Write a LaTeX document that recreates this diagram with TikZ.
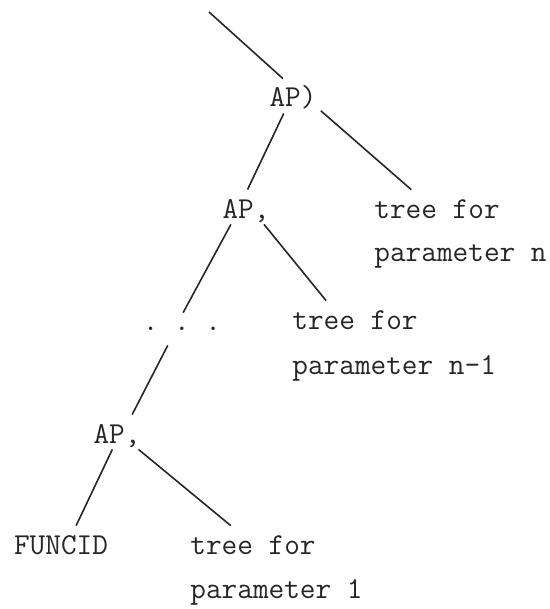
\documentclass[tikz,border=0pt]{standalone}
\usetikzlibrary{calc}
\begin{document}
\begin{tikzpicture}[x=0.5pt,y=-0.5pt,
    lbl/.style={font=\ttfamily\fontsize{15.2}{18}\selectfont, text=black!85,
        inner sep=2pt, text height=12pt, text depth=1pt},
    branch/.style={line width=0.8pt, black!85}]
    \useasboundingbox (0,0) rectangle (550,609);

    % Coordinates and nodes
    \coordinate (root) at (209,12);
    \node[lbl, anchor=base] (apn) at (293,107) {AP)};
    \node[lbl, anchor=base] (apm) at (246,218) {AP,};
    \node[lbl, anchor=base west] (tn) at (370,218) {tree for};
    \node[lbl, anchor=base west] (tnb) at ($(tn.base west)+(0,43)$) {parameter n};
    \node[lbl, anchor=base, text height=6.5pt, text depth=5.5pt] (dots) at (182,330) {.\ .\ .};
    \node[lbl, anchor=base west] (tnm) at (288,329) {tree for};
    \node[lbl, anchor=base west] (tnmb) at ($(tnm.base west)+(0,45)$) {parameter n-1};
    \node[lbl, anchor=base] (ap1) at (117,443) {AP,};
    \node[lbl, anchor=base] (fun) at (61,554) {FUNCID};
    \node[lbl, anchor=base west] (t1) at (186,554) {tree for};
    \node[lbl, anchor=base west] (t1b) at ($(t1.base west)+(0,44)$) {parameter 1};

    % Draw the branches
    \draw[branch] (root) -- (apn.120);
    \draw[branch] (apn.242) -- (apm.85);
    \draw[branch] (apn.332) -- (tn.146);
    \draw[branch] (apm.229) -- (dots.86);
    \draw[branch] (apm.316) -- (tnm.149);
    \draw[branch] (dots.229) -- (ap1.49);
    \draw[branch] (ap1.255) -- (fun.49);
    \draw[branch] (ap1.321) -- (t1.142);
\end{tikzpicture}
\end{document}
